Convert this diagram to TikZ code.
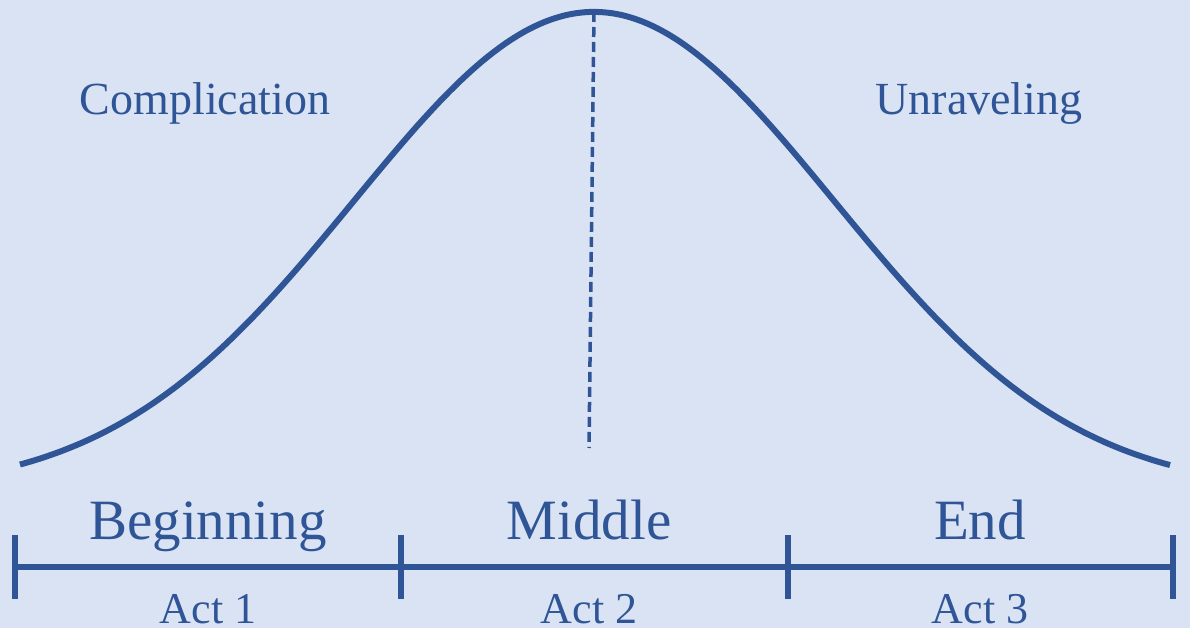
\documentclass[tikz,border=0pt]{standalone}
\usepackage{fontspec}
\setmainfont{Liberation Serif}
\definecolor{bgblue}{HTML}{DAE3F3}
\definecolor{inkblue}{HTML}{2F5597}
\tikzset{
  curveline/.style={draw=inkblue, line width=6pt},
  peakline/.style={draw=inkblue, line width=3.5pt, dash pattern=on 10pt off 5pt},
  axisline/.style={draw=inkblue, line width=5.5pt},
  tickline/.style={draw=inkblue, line width=5.5pt},
  lbl/.style={text=inkblue, inner sep=0pt, anchor=base},
  smalllbl/.style={lbl, font=\fontsize{46}{52}\selectfont},
  biglbl/.style={lbl, font=\fontsize{57}{64}\selectfont},
  actlbl/.style={lbl, font=\fontsize{44}{50}\selectfont},
}
\begin{document}
\begin{tikzpicture}[x=1pt,y=-1pt]
  \fill[bgblue] (0,0) rectangle (1190,628);
  \useasboundingbox (0,0) rectangle (1190,628);
  % curve
  \draw[curveline] plot[domain=20:1170, samples=200, smooth, variable=\t]
     (\t, {12+480*(1-exp(-0.5*((\t-594)/240)^2))});
  \coordinate (peak) at (594,12);
  \coordinate (peakfoot) at (589,448);
  \draw[peakline] (peak) -- (peakfoot);
  % axis
  \coordinate (t1) at (15,567);
  \coordinate (t2) at (401,567);
  \coordinate (t3) at (788,567);
  \coordinate (t4) at (1173,567);
  \draw[axisline] (t1) -- (t4);
  \foreach \p in {t1,t2,t3,t4}{
    \draw[tickline] ([yshift=-32pt]\p) -- ([yshift=32pt]\p);
  }
  % labels
  \node[smalllbl] (compl) at (205,115) {Complication};
  \node[smalllbl] (unrav) at (979,115) {Unraveling};
  \node[biglbl] (beg) at (208,539) {Beginning};
  \node[biglbl] (mid) at (589,539) {Middle};
  \node[biglbl] (endl) at (980,539) {End};
  \node[actlbl] (act1) at (208,623) {Act 1};
  \node[actlbl] (act2) at (589,623) {Act 2};
  \node[actlbl] (act3) at (980,623) {Act 3};
\end{tikzpicture}
\end{document}
